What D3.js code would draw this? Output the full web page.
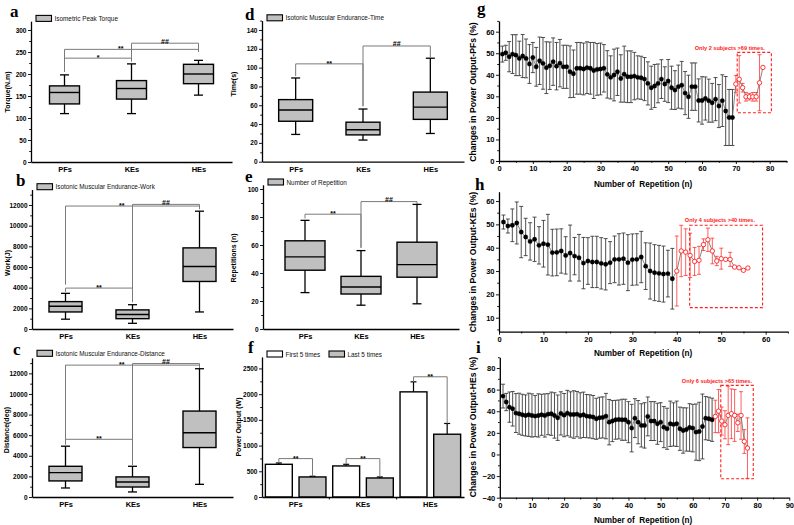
<!DOCTYPE html>
<html><head><meta charset="utf-8">
<script src="https://cdn.jsdelivr.net/npm/d3@7"></script>
<style>body{margin:0;background:#fff}svg{display:block}</style>
</head><body>
<svg id="c" width="794" height="525"></svg>
<script>
// ---------------- DATA ----------------
const categories = ["PFs", "KEs", "HEs"];
// box stats: [lower whisker, Q1, median, Q3, upper whisker]
const torqueStats   = [[110,132,158,173,198],[110,143,167,185,223],[152,178,200,222,231]];
const workStats     = [[950,1650,2200,2650,3450],[550,1000,1400,1850,2350],[1650,4600,6050,7850,11400]];
const distanceStats = [[875,1560,2370,2980,4930],[490,970,1460,1950,2980],[1230,4800,6230,8340,12450]];
const timeStats     = [[29,43,55,66,89],[23,28.5,34,42,56],[30,45,58,74,110]];
const repStats      = [[26,42,51.5,63,77.6],[17,25,30,37.6,56],[18,37,46,62,89]];

const powerSeries = ["First 5 times", "Last 5 times"];
const powerFirst = [636, 604, 2045];
const powerFirstErr = [26, 32, 195];
const powerLast = [390, 370, 1221];
const powerLastErr = [13, 20, 209];

const torqueTicks = [0,50,100,150,200,250,300];
const workTicks = [0,2000,4000,6000,8000,10000,12000];
const distanceTicks = [0,2000,4000,6000,8000,10000,12000];
const timeTicks = [0,20,40,60,80,100,120,140];
const repTicks = [0,20,40,60,80,100];
const powerTicks = [0,500,1000,1500,2000,2500];

// significance brackets: [from, to, level, dropFrom, dropTo, label, labelPos]
const torqueBrackets = [["PFs","KEs",236,205,228,"*",0.5],["PFs","HEs",256,205,250,"**",0.42],["KEs","HEs",270,232,252,"##",0.5]];
const workBrackets = [["PFs","HEs",11900,4300,11600,"**",0.42],["PFs","KEs",3960,3600,2600,"**",0.5],["KEs","HEs",12060,2600,11600,"##",0.5]];
const distanceBrackets = [["PFs","HEs",12800,5100,12450,"**",0.42],["PFs","KEs",5600,5100,3100,"**",0.5],["KEs","HEs",12950,3200,12450,"##",0.5]];
const timeBrackets = [["PFs","KEs",104,91,59,"**",0.5],["KEs","HEs",123,59,111,"##",0.5]];
const repBrackets = [["PFs","KEs",82,79,58,"**",0.5],["KEs","HEs",91,58,89,"##",0.5]];
// power brackets: [group, level, dropFirst, dropLast, label]
const powerBrackets = [["PFs",747,662,403,"**"],["KEs",747,636,390,"**"],["HEs",2338,2240,1430,"**"]];

// repetition series (mean, SD)
const pfMean = [49.6,50.2,48.4,49.6,49.1,47.6,48.7,47.6,45.0,48.0,43.7,46.5,45.3,43.3,44.2,46.1,44.0,45.4,43.7,43.7,
  41.4,40.5,43.0,43.0,42.7,43.3,43.0,42.0,42.5,42.7,43.0,40.2,38.8,39.9,41.4,38.3,40.3,39.1,39.1,39.4,
  38.8,38.6,38.0,36.0,34.0,34.8,36.0,38.0,35.7,37.1,34.0,32.9,34.5,35.2,31.5,29.8,34.5,34.5,28.1,28.1,
  29.0,28.0,27.0,28.7,25.5,28.0,23.2,20.2,20.2,
  35.7,37.9,34.0,29.8,29.8,29.8,29.8,36.3,43.4];
const pfErr = [3.7,3.5,7,9,9.5,8,10,9,9,7,9,11,12,12,11,11,11,11,10,10,
  12,11,12,12,12,12,12,13,12,12,11,11,10,12,11,11,13,12,12,11,
  10,10,10,10,10,10,9,9,8,10,10,9,10,11,10,10,11,11,10,11,
  10,10,9,10,10,12,16,13,13,
  4,11,2,2,1.5,2,2,13,0];
const keMean = [51,49.3,49.6,50.6,46.7,44.6,42.7,43.6,41.0,41.7,41.3,37.9,38.0,38.6,36.7,37.7,36.4,35.7,33.4,34.3,
  33.9,33.9,33.3,32.9,33.6,35.0,35.0,35.3,33.6,34.9,35.0,36.0,32.1,30.0,29.3,29.0,28.7,28.9,26.7,
  30.0,38.6,38.1,36.7,34.1,34.6,41.3,43.4,38.6,34.3,35.3,35.0,35.0,31.7,31.4,30.3,31.3];
const keErr = [3,3,7,9,11,8,8,9.5,8,10,13,10,10,9.5,8,12,8,10,11,10,
  11,11,11,11,9,10,11,11,12,11,11,11,10,12,12,12,12,10,13,
  15,11,10,9.5,6,6,2.5,5,5.5,2,4.5,0,3,0,0,0,0];
const heMean = [54,48.5,43.8,42.3,38.3,37.7,36.7,36.1,36.7,36.1,35.5,36.1,36.7,36.1,37.3,37.7,36.1,34.0,38.0,36.4,
  38.3,37.0,37.0,37.3,36.1,36.7,35.5,35.2,34.6,33.0,34.0,34.3,35.5,29.9,30.9,32.1,32.4,32.1,32.1,29.9,
  24.4,33.6,29.9,26.9,26.9,35.2,30.9,30.9,28.4,29.9,25.3,23.8,28.4,27.8,28.4,23.8,22.2,23.1,25.0,24.4,
  20.7,21.3,25.9,33.6,33.0,32.1,
  35.2,40.1,30.9,27.5,36.1,37.7,36.1,29.3,36.1,12.0,5.9];
const heErr = [11,8,14,16,18,19,19,19,20,20,19,20,19,20,19,20,21,21,20,20,
  21,21,22,21,21,21,20,20,20,19,19,19,21,21,19,18,18,19,19,19,
  22,18,20,20,21,18,18,18,19,18,19,19,21,20,21,20,21,20,22,22,
  26,27,30,20,20,20,
  15,20,13,13,27,23,24,8,22,11,28];
const pfAllN = 69, keAllN = 39, heAllN = 66;   // points with all subjects
const pfNote = "Only 2 subjects >69 times.";
const keNote = "Only 4 subjects >40 times.";
const heNote = "Only 6 subjects >65 times.";
// highlight boxes [n0, n1, v0, v1]
const pfBox = [70.4, 80.5, 22.4, 50.4];
const keBox = [42.9, 59.3, 14.3, 49.6];
const heBox = [68.7, 78.8, -22.5, 63.9];
const pfXTicks = [0,10,20,30,40,50,60,70,80];
const keXTicks = [0,10,20,30,40,50,60];
const heXTicks = [0,10,20,30,40,50,60,70,80,90];
const pfYTicks = [0,10,20,30,40,50,60];
const keYTicks = [10,20,30,40,50,60];
const heYTicks = [-40,-20,0,20,40,60,80];

// ---------------- DRAWING ----------------
const svg = d3.select("#c");
const SANS = "'Liberation Sans', Arial, sans-serif";
const SERIF = "'Liberation Serif', 'Times New Roman', serif";
const GRAY = "#c0c0c0";

function mids(t){ const m=[]; for(let i=0;i<t.length-1;i++) m.push((t[i]+t[i+1])/2); return m; }

function leftAxis(g, y, x, major, minor, fs, pad){
  const ax = g.append("g").attr("transform",`translate(${x},0)`);
  ax.call(d3.axisLeft(y).tickValues(major).tickSize(3).tickSizeOuter(0).tickPadding(pad||1.5).tickFormat(d3.format("d")));
  const mn = ax.append("g").call(d3.axisLeft(y).tickValues(minor).tickSize(1.8).tickSizeOuter(0).tickFormat(""));
  mn.select(".domain").remove();
  ax.selectAll("text").attr("font-size",fs).attr("font-weight","bold").attr("font-family",SANS).attr("fill","#000");
  ax.selectAll(".tick line").attr("stroke","#000").attr("stroke-width",0.9);
  ax.select(".domain").attr("stroke","#000").attr("stroke-width",1.3);
  return ax;
}
function letter(t,x,y){
  svg.append("text").attr("x",x).attr("y",y).text(t).attr("font-family",SERIF).attr("font-weight","bold").attr("font-size",17);
}
function yTitle(t,x,y,fs){
  svg.append("text").attr("transform",`translate(${x},${y}) rotate(-90)`).attr("text-anchor","middle")
    .attr("dominant-baseline","central").text(t).attr("font-family",SANS).attr("font-weight","bold").attr("font-size",fs);
}
function legendItem(x,yc,fill,label){
  svg.append("rect").attr("x",x).attr("y",yc-3).attr("width",15.5).attr("height",6).attr("fill",fill).attr("stroke","#000").attr("stroke-width",1.1);
  svg.append("text").attr("x",x+18.5).attr("y",yc).attr("dominant-baseline","central").text(label)
    .attr("font-family",SANS).attr("font-size",6.4).attr("fill","#111");
}
function sigLabel(g, x, ly, t){
  // asterisks sit high in the em box; hashes sit on the baseline
  const yy = t.indexOf("*")>=0 ? ly+2 : ly+0.3;
  g.append("text").attr("x",x).attr("y",yy).attr("text-anchor","middle").text(t)
    .attr("font-family",SANS).attr("font-weight","bold").attr("font-size",7);
}

const boxPanels = [
  {stats:torqueStats, br:torqueBrackets, ticks:torqueTicks, xr:[31,232], pad:0.5, yr:[162,21.2], yd:[0,320], boxW:30,
   title:"Torque(N.m)", tx:7, ty:92, L:["a",10,17], legend:"Isometric Peak Torque", lg:2.8},
  {stats:workStats, br:workBrackets, ticks:workTicks, xr:[32,233], pad:0.5, yr:[329,189.5], yd:[0,13500], boxW:33,
   title:"Work(J)", tx:7, ty:263, L:["b",16,186], legend:"Isotonic Muscular Endurance-Work", lg:2.8},
  {stats:distanceStats, br:distanceBrackets, ticks:distanceTicks, xr:[32,233], pad:0.5, yr:[497,357.9], yd:[0,13500], boxW:33,
   title:"Distance(deg)", tx:6, ty:430, L:["c",13,355], legend:"Isotonic Muscular Endurance-Distance", lg:4.6},
  {stats:timeStats, br:timeBrackets, ticks:timeTicks, xr:[262,464], pad:0.5, yr:[161.7,20.6], yd:[0,150], boxW:34,
   title:"Time(s)", tx:233, ty:84, L:["d",245,20], legend:"Isotonic Muscular Endurance-Time", lg:2.8},
  {stats:repStats, br:repBrackets, ticks:repTicks, xr:[263,459], pad:0.75, yr:[329,184.8], yd:[0,103], boxW:40,
   title:"Repetitions (n)", tx:233, ty:258, L:["e",245,182], legend:"Number of  Repetition", lg:2.8},
];

boxPanels.forEach(p=>{
  const g = svg.append("g");
  const x = d3.scalePoint().domain(categories).range(p.xr).padding(p.pad);
  const y = d3.scaleLinear().domain(p.yd).range(p.yr);
  // brackets
  p.br.forEach(b=>{
    const xa=x(b[0]), xb=x(b[1]), ly=y(b[2]);
    g.append("path").attr("d",`M${xa},${y(b[3])}V${ly}H${xb}V${y(b[4])}`).attr("fill","none").attr("stroke","#7a7a7a").attr("stroke-width",1);
    sigLabel(g, xa+(xb-xa)*b[6], ly, b[5]);
  });
  // boxes
  p.stats.forEach((s,i)=>{
    const cx = x(categories[i]), w=p.boxW, cw=9;
    g.append("line").attr("x1",cx).attr("x2",cx).attr("y1",y(s[0])).attr("y2",y(s[4])).attr("stroke","#000").attr("stroke-width",1.3);
    [s[0],s[4]].forEach(v=>g.append("line").attr("x1",cx-cw/2).attr("x2",cx+cw/2).attr("y1",y(v)).attr("y2",y(v)).attr("stroke","#000").attr("stroke-width",1.3));
    g.append("rect").attr("x",cx-w/2).attr("y",y(s[3])).attr("width",w).attr("height",y(s[1])-y(s[3]))
      .attr("fill",GRAY).attr("stroke","#000").attr("stroke-width",1.4);
    g.append("line").attr("x1",cx-w/2).attr("x2",cx+w/2).attr("y1",y(s[2])).attr("y2",y(s[2])).attr("stroke","#000").attr("stroke-width",1.4);
  });
  // axes
  leftAxis(g, y, p.xr[0], p.ticks, mids(p.ticks.concat([p.ticks[p.ticks.length-1]*2-p.ticks[p.ticks.length-2]])).filter(v=>v<=p.yd[1]), 6.5);
  const bx = g.append("g").attr("transform",`translate(0,${p.yr[0]})`)
    .call(d3.axisBottom(x).tickSize(0).tickSizeOuter(0).tickPadding(5));
  bx.select(".domain").attr("stroke","#000").attr("stroke-width",1.3);
  bx.selectAll("text").attr("font-family",SANS).attr("font-weight","bold").attr("font-size",7.5).attr("fill","#000");
  yTitle(p.title,p.tx,p.ty,7);
  letter(p.L[0],p.L[1],p.L[2]);
  legendItem(p.xr[0]+5, p.yr[1]-p.lg, GRAY, p.legend);
});

// ---- panel f (bars) ----
(function(){
  const g = svg.append("g");
  const xr=[262,464], yr=[497,356.9];
  const x = d3.scaleBand().domain(categories).range(xr).padding(0);
  const xs = d3.scaleBand().domain(powerSeries).range([0,x.bandwidth()]).paddingInner(0.2).paddingOuter(0.1);
  const y = d3.scaleLinear().domain([0,2725]).range(yr);
  const series = [[powerFirst,powerFirstErr,"#fff"],[powerLast,powerLastErr,GRAY]];
  series.forEach((s,k)=>{
    categories.forEach((c,i)=>{
      const bx = x(c)+xs(powerSeries[k]), bw = xs.bandwidth(), cx = bx+bw/2;
      const top = y(s[0][i]+s[1][i]);
      g.append("line").attr("x1",cx).attr("x2",cx).attr("y1",y(s[0][i])).attr("y2",top).attr("stroke","#000").attr("stroke-width",1.2);
      g.append("line").attr("x1",cx-3).attr("x2",cx+3).attr("y1",top).attr("y2",top).attr("stroke","#000").attr("stroke-width",1.2);
      g.append("rect").attr("x",bx).attr("y",y(s[0][i])).attr("width",bw).attr("height",yr[0]-y(s[0][i]))
        .attr("fill",s[2]).attr("stroke","#000").attr("stroke-width",1.4);
    });
  });
  powerBrackets.forEach(b=>{
    const xa = x(b[0])+xs(powerSeries[0])+xs.bandwidth()/2, xb = x(b[0])+xs(powerSeries[1])+xs.bandwidth()/2, ly=y(b[1]);
    g.append("path").attr("d",`M${xa},${y(b[2])}V${ly}H${xb}V${y(b[3])}`).attr("fill","none").attr("stroke","#7a7a7a").attr("stroke-width",1);
    sigLabel(g, (xa+xb)/2, ly, b[4]);
  });
  leftAxis(g, y, xr[0], powerTicks, [250,750,1250,1750,2250,2750].filter(v=>v<=2725), 6.5);
  const bxa = g.append("g").attr("transform",`translate(0,${yr[0]})`)
    .call(d3.axisBottom(x).tickSize(0).tickSizeOuter(0).tickPadding(5));
  bxa.select(".domain").attr("stroke","#000").attr("stroke-width",1.3);
  bxa.selectAll("text").attr("font-family",SANS).attr("font-weight","bold").attr("font-size",7.5).attr("fill","#000");
  categories.slice(1).forEach(c=>g.append("line").attr("x1",x(c)).attr("x2",x(c)).attr("y1",yr[0]).attr("y2",yr[0]+2.5).attr("stroke","#000"));
  yTitle("Power Output (W)",238,427,7);
  letter("f",248,353);
  legendItem(xr[0]+5, 354, "#fff", powerSeries[0]);
  legendItem(329, 354, GRAY, powerSeries[1]);
})();

// ---- panels g, h, i ----
const linePanels = [
  {mean:pfMean, err:pfErr, all:pfAllN, box:pfBox, note:pfNote, np:[68.2,51.4], xr:[499,786.6], xd:[0,85], yr:[161,20.9], yd:[0,65],
   xt:pfXTicks, xm:[5,15,25,35,45,55,65,75,85], yt:pfYTicks, ym:[5,15,25,35,45,55,65],
   title:"Changes in Power Output-PFs (%)", ty:92, xty:184, L:["g",477,14]},
  {mean:keMean, err:keErr, all:keAllN, box:keBox, note:keNote, np:[49.7,50.9], xr:[499,787.9], xd:[0,65], yr:[331.7,191.7], yd:[4,64],
   xt:keXTicks, xm:[5,15,25,35,45,55,65], yt:keYTicks, ym:[5,15,25,35,45,55],
   title:"Changes in Power Output-KEs (%)", ty:262, xty:353, L:["h",475,190]},
  {mean:heMean, err:heErr, all:heAllN, box:heBox, note:heNote, np:[67.5,66.4], xr:[499.8,789.3], xd:[0,90], yr:[497.7,357.2], yd:[-40,90],
   xt:heXTicks, xm:[5,15,25,35,45,55,65,75,85], yt:heYTicks, ym:[-30,-10,10,30,50,70,90],
   title:"Changes in Power Output-HEs (%)", ty:427, xty:520, L:["i",476,353]},
];
linePanels.forEach(p=>{
  const g = svg.append("g");
  const x = d3.scaleLinear().domain(p.xd).range(p.xr);
  const y = d3.scaleLinear().domain(p.yd).range(p.yr);
  const data = p.mean.map((m,i)=>({n:i+1, m, e:p.err[i], red:i>=p.all}));
  const RED = "#ff2020";
  // box
  g.append("rect").attr("x",x(p.box[0])).attr("y",y(p.box[3])).attr("width",x(p.box[1])-x(p.box[0])).attr("height",y(p.box[2])-y(p.box[3]))
    .attr("fill","none").attr("stroke",RED).attr("stroke-width",1.1).attr("stroke-dasharray","3,2");
  g.append("text").attr("x",x(p.np[0])).attr("y",y(p.np[1])).attr("text-anchor","middle").text(p.note)
    .attr("font-family",SANS).attr("font-weight","bold").attr("font-size",5.6).attr("fill",RED);
  // error bars
  data.filter(d=>d.e>0).forEach(d=>{
    const c = d.red ? RED : "#3c3c3c", cx = x(d.n);
    const eg = g.append("g").attr("stroke",c).attr("stroke-width",0.9).attr("stroke-opacity",d.red?0.8:1);
    eg.append("line").attr("x1",cx).attr("x2",cx).attr("y1",y(d.m-d.e)).attr("y2",y(d.m+d.e));
    [d.m-d.e,d.m+d.e].forEach(v=>eg.append("line").attr("x1",cx-2).attr("x2",cx+2).attr("y1",y(v)).attr("y2",y(v)));
  });
  // connecting line
  g.append("path").datum(data).attr("d",d3.line().x(d=>x(d.n)).y(d=>y(d.m)))
    .attr("fill","none").attr("stroke","#666").attr("stroke-width",0.8);
  // points
  g.selectAll(null).data(data).join("circle").attr("cx",d=>x(d.n)).attr("cy",d=>y(d.m)).attr("r",2.2)
    .attr("fill",d=>d.red?"#fff":"#000").attr("stroke",d=>d.red?RED:"#000").attr("stroke-width",d=>d.red?0.9:0.3);
  // axes
  leftAxis(g, y, p.xr[0], p.yt, p.ym.filter(v=>v>p.yd[0]&&v<=p.yd[1]), 7.5, 1.5);
  const bx = g.append("g").attr("transform",`translate(0,${p.yr[0]})`);
  bx.call(d3.axisBottom(x).tickValues(p.xt).tickSize(3).tickSizeOuter(0).tickPadding(1.5).tickFormat(d3.format("d")));
  const mn = bx.append("g").call(d3.axisBottom(x).tickValues(p.xm).tickSize(1.8).tickSizeOuter(0).tickFormat(""));
  mn.select(".domain").remove();
  bx.selectAll("text").attr("font-size",7.5).attr("font-weight","bold").attr("font-family",SANS).attr("fill","#000");
  bx.selectAll(".tick line").attr("stroke","#000").attr("stroke-width",0.9);
  bx.select(".domain").attr("stroke","#000").attr("stroke-width",1.3);
  yTitle(p.title,473,p.ty,8.6);
  svg.append("text").attr("x",643).attr("y",p.xty).attr("text-anchor","middle").attr("dominant-baseline","central")
    .text("Number of  Repetition (n)").attr("font-family",SANS).attr("font-weight","bold").attr("font-size",8.2).style("white-space","pre");
  letter(p.L[0],p.L[1],p.L[2]);
});
</script>
</body></html>
